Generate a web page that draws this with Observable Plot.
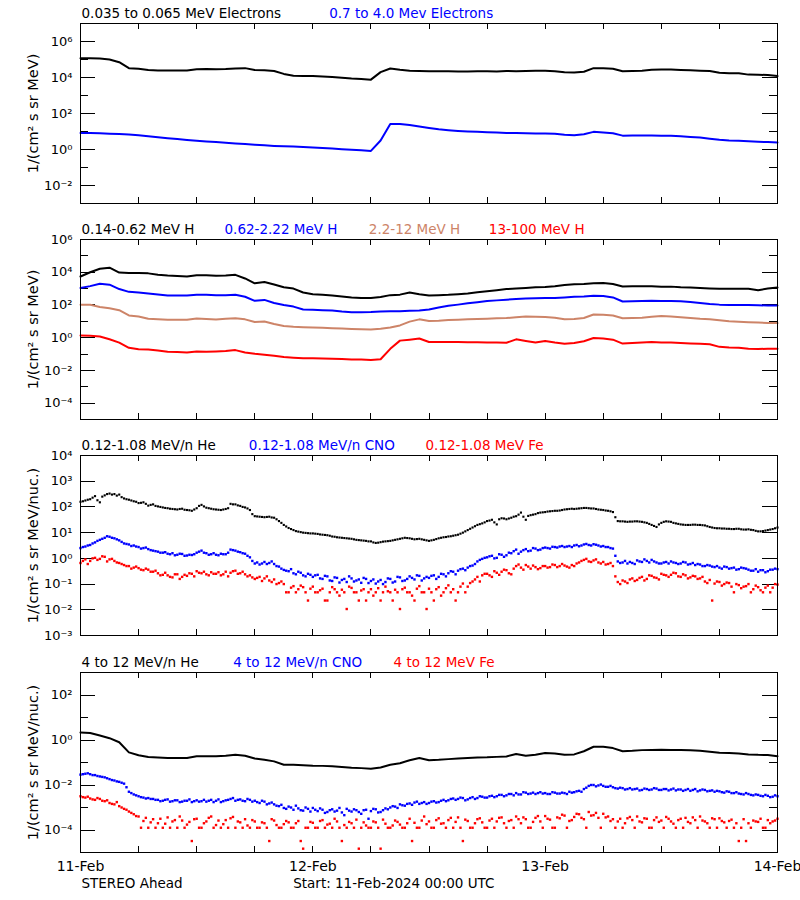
<!DOCTYPE html>
<html><head><meta charset="utf-8">
<script src="https://cdn.jsdelivr.net/npm/d3@7"></script>
<script src="https://cdn.jsdelivr.net/npm/@observablehq/plot@0.6"></script>
<style>
html,body{margin:0;padding:0;background:#fff;}
#root{position:relative;width:800px;height:900px;overflow:hidden;background:#fff;}
</style></head>
<body><div id="root"></div>
<script>
// Sample times: hours since 11-Feb-2024 00:00 UTC
const hours = d3.range(0, 73);
const halfHours = d3.range(0, 145).map(i => i / 2);
const halfHoursB = d3.range(0, 144).map(i => i / 2 + 0.25);

// ---- Panel 1: electrons, log10 flux 1/(cm2 s sr MeV), hourly
const eLowLog = [5.07,5.07,5.06,5.00,4.85,4.52,4.48,4.42,4.39,4.39,4.39,4.39,
 4.46,4.47,4.46,4.47,4.50,4.52,4.42,4.40,4.36,4.20,4.10,4.09,
 4.08,4.05,4.03,3.98,3.94,3.92,3.88,4.30,4.50,4.43,4.38,4.36,
 4.35,4.35,4.35,4.34,4.34,4.35,4.35,4.34,4.36,4.35,4.36,4.37,
 4.37,4.35,4.29,4.28,4.32,4.52,4.51,4.49,4.35,4.36,4.38,4.43,
 4.44,4.44,4.42,4.40,4.38,4.36,4.26,4.24,4.24,4.16,4.15,4.14,
 4.08];
const eHighLog = [0.91,0.91,0.90,0.88,0.86,0.83,0.79,0.74,0.68,0.63,0.58,0.53,
 0.48,0.44,0.41,0.37,0.34,0.30,0.26,0.23,0.20,0.18,0.16,0.14,
 0.11,0.08,0.05,0.02,-0.01,-0.04,-0.08,0.50,1.42,1.42,1.36,1.28,
 1.20,1.12,1.07,1.03,1.00,0.98,0.96,0.94,0.92,0.91,0.90,0.89,
 0.89,0.87,0.82,0.79,0.85,0.98,0.95,0.90,0.77,0.78,0.78,0.78,
 0.77,0.76,0.73,0.70,0.67,0.60,0.54,0.50,0.48,0.46,0.43,0.41,
 0.39];

// ---- Panel 2: protons, log10 flux, hourly
const h1Log = [3.74,4.00,4.21,4.28,3.98,3.96,3.96,3.93,3.85,3.80,3.77,3.74,
 3.82,3.82,3.78,3.80,3.84,3.62,3.32,3.40,3.25,3.08,3.00,2.76,
 2.66,2.62,2.58,2.52,2.46,2.43,2.42,2.48,2.60,2.63,2.76,2.66,
 2.58,2.60,2.62,2.66,2.70,2.78,2.84,2.90,2.97,3.00,3.04,3.08,
 3.10,3.14,3.22,3.26,3.28,3.32,3.34,3.28,3.13,3.14,3.15,3.15,
 3.12,3.12,3.08,3.06,3.04,3.01,2.99,2.99,2.99,2.99,2.90,3.00,
 3.07];
const h2Log = [3.03,3.15,3.30,3.24,2.97,2.80,2.76,2.70,2.64,2.58,2.58,2.58,
 2.63,2.62,2.60,2.60,2.62,2.50,2.25,2.31,2.12,2.00,1.90,1.72,
 1.70,1.68,1.66,1.60,1.56,1.56,1.57,1.60,1.62,1.62,1.64,1.66,
 1.72,1.85,1.95,2.02,2.10,2.17,2.24,2.28,2.32,2.36,2.39,2.41,
 2.42,2.43,2.46,2.50,2.52,2.56,2.55,2.46,2.21,2.22,2.24,2.25,
 2.24,2.24,2.22,2.18,2.12,2.06,2.02,2.00,2.00,1.99,1.98,1.97,
 1.97];
const h3Log = [2.01,2.01,1.88,1.80,1.68,1.36,1.30,1.16,1.12,1.09,1.09,1.09,
 1.17,1.14,1.11,1.15,1.19,1.12,0.96,0.99,0.84,0.72,0.67,0.64,
 0.62,0.60,0.58,0.56,0.53,0.51,0.50,0.54,0.62,0.75,0.98,1.12,
 1.02,1.04,1.08,1.10,1.12,1.14,1.16,1.18,1.20,1.25,1.30,1.28,
 1.27,1.22,1.12,1.14,1.20,1.42,1.40,1.36,1.19,1.20,1.22,1.28,
 1.32,1.30,1.25,1.20,1.15,1.12,1.06,1.00,0.98,0.95,0.93,0.90,
 0.89];
const h4Log = [0.13,0.12,0.07,-0.10,-0.30,-0.62,-0.70,-0.72,-0.78,-0.86,-0.88,-0.90,
 -0.84,-0.86,-0.84,-0.82,-0.76,-0.90,-0.98,-1.04,-1.10,-1.18,-1.22,-1.25,
 -1.26,-1.27,-1.29,-1.31,-1.33,-1.34,-1.36,-1.32,-0.68,-0.18,-0.12,-0.05,
 -0.26,-0.27,-0.27,-0.27,-0.28,-0.28,-0.29,-0.30,-0.31,-0.10,-0.20,-0.30,
 -0.20,-0.30,-0.37,-0.33,-0.22,-0.02,-0.05,-0.12,-0.36,-0.33,-0.30,-0.27,
 -0.29,-0.30,-0.33,-0.35,-0.37,-0.40,-0.56,-0.60,-0.62,-0.68,-0.69,-0.68,
 -0.68];

// ---- Panel 3: 0.12-1.08 MeV/n ions, log10 flux, two interleaved half-hourly sample sets
const he3Log = [2.20,2.25,2.30,2.42,2.18,2.45,2.52,2.50,2.48,2.33,2.28,2.22,
 2.15,2.18,2.05,2.10,2.02,1.98,1.95,1.92,1.90,1.93,1.88,1.85,
 1.95,2.08,1.97,1.93,1.90,1.88,1.92,2.12,2.10,2.04,1.98,1.88,
 1.64,1.62,1.60,1.62,1.58,1.45,1.30,1.18,1.10,1.04,1.00,0.98,
 0.97,0.95,0.92,0.90,0.85,0.82,0.80,0.78,0.76,0.72,0.70,0.68,
 0.66,0.60,0.63,0.66,0.68,0.72,0.76,0.80,0.78,0.74,0.76,0.72,
 0.68,0.72,0.78,0.82,0.85,0.88,0.92,1.00,1.10,1.20,1.30,1.36,
 1.45,1.50,1.32,1.56,1.52,1.58,1.64,1.78,1.50,1.68,1.72,1.78,
 1.80,1.83,1.85,1.86,1.90,1.92,1.92,1.94,1.96,1.95,1.94,1.90,
 1.88,1.85,1.80,1.45,1.44,1.42,1.43,1.44,1.42,1.38,1.30,1.22,
 1.38,1.44,1.42,1.36,1.32,1.30,1.30,1.31,1.30,1.28,1.22,1.18,
 1.17,1.16,1.15,1.14,1.15,1.12,1.13,1.10,1.05,1.06,1.10,1.14,
 1.20];
const he3LogB = [2.22,2.28,2.36,2.26,2.40,2.50,2.48,2.44,2.38,2.30,2.25,2.20,
 2.16,2.12,2.08,2.04,2.00,1.96,1.93,1.91,1.92,1.89,1.87,1.90,
 2.04,2.02,1.95,1.91,1.89,1.90,1.95,2.10,2.06,2.00,1.94,1.72,
 1.63,1.61,1.61,1.59,1.52,1.38,1.24,1.14,1.06,1.02,0.99,0.97,
 0.96,0.93,0.91,0.88,0.84,0.81,0.79,0.77,0.74,0.71,0.69,0.66,
 0.62,0.61,0.65,0.67,0.70,0.74,0.78,0.79,0.76,0.75,0.74,0.70,
 0.70,0.75,0.80,0.83,0.86,0.90,0.96,1.05,1.15,1.25,1.33,1.40,
 1.47,1.40,1.52,1.55,1.55,1.62,1.70,1.62,1.65,1.70,1.76,1.79,
 1.82,1.84,1.85,1.88,1.91,1.93,1.93,1.95,1.96,1.94,1.92,1.89,
 1.86,1.83,1.60,1.44,1.43,1.43,1.44,1.43,1.40,1.34,1.26,1.32,
 1.42,1.43,1.38,1.34,1.31,1.30,1.31,1.30,1.29,1.25,1.20,1.17,
 1.16,1.15,1.14,1.15,1.13,1.12,1.11,1.07,1.05,1.08,1.12,1.17];
const cno3Log = [0.40,0.46,0.52,0.62,0.72,0.80,0.84,0.78,0.70,0.58,0.54,0.50,
 0.44,0.40,0.36,0.30,0.26,0.22,0.18,0.20,0.14,0.17,0.11,0.13,
 0.22,0.30,0.20,0.16,0.14,0.18,0.16,0.34,0.30,0.24,0.18,0.04,
 -0.20,-0.24,-0.14,-0.18,-0.22,-0.32,-0.45,-0.50,-0.58,-0.52,-0.66,-0.60,
 -0.72,-0.64,-0.80,-0.70,-0.88,-0.76,-0.84,-0.92,-0.78,-0.86,-0.95,-0.80,
 -0.88,-0.98,-0.84,-0.92,-0.80,-0.90,-0.74,-0.86,-0.70,-0.82,-0.68,-0.78,
 -0.76,-0.66,-0.72,-0.62,-0.58,-0.52,-0.48,-0.40,-0.36,-0.28,-0.12,-0.02,
 0.04,0.10,0.02,0.14,0.12,0.20,0.34,0.26,0.36,0.30,0.38,0.34,
 0.42,0.38,0.44,0.46,0.44,0.48,0.50,0.47,0.54,0.52,0.55,0.50,
 0.48,0.44,0.38,-0.12,-0.16,-0.20,-0.18,-0.08,-0.14,-0.10,-0.06,-0.16,
 -0.20,-0.14,-0.12,-0.18,-0.20,-0.16,-0.22,-0.26,-0.24,-0.30,-0.28,-0.34,
 -0.36,-0.32,-0.40,-0.36,-0.42,-0.38,-0.44,-0.48,-0.52,-0.46,-0.50,-0.44,
 -0.42];
const cno3LogB = [0.44,0.50,0.58,0.68,0.76,0.86,0.80,0.74,0.64,0.56,0.48,0.46,
 0.38,0.42,0.32,0.28,0.22,0.24,0.16,0.12,0.18,0.10,0.14,0.16,
 0.26,0.22,0.14,0.20,0.12,0.16,0.22,0.32,0.26,0.20,0.10,-0.10,
 -0.16,-0.20,-0.22,-0.12,-0.30,-0.40,-0.48,-0.42,-0.62,-0.56,-0.70,-0.64,
 -0.66,-0.78,-0.68,-0.86,-0.74,-0.94,-0.80,-0.70,-0.90,-0.82,-0.76,-0.96,
 -0.82,-0.90,-1.00,-0.78,-0.94,-0.72,-0.88,-0.80,-0.76,-0.66,-0.86,-0.72,
 -0.68,-0.80,-0.60,-0.70,-0.50,-0.62,-0.42,-0.46,-0.30,-0.22,-0.06,0.02,
 0.08,0.00,0.16,0.06,0.22,0.28,0.18,0.32,0.28,0.40,0.32,0.40,
 0.40,0.45,0.42,0.48,0.46,0.44,0.52,0.50,0.56,0.50,0.53,0.46,
 0.44,0.40,0.10,-0.18,-0.10,-0.14,-0.22,-0.12,-0.04,-0.16,-0.12,-0.20,
 -0.16,-0.20,-0.16,-0.22,-0.14,-0.24,-0.18,-0.22,-0.30,-0.26,-0.32,-0.30,
 -0.40,-0.34,-0.38,-0.44,-0.36,-0.40,-0.48,-0.42,-0.46,-0.54,-0.44,-0.40];
const fe3Log = [-0.18,-0.04,-0.10,0.02,-0.02,0.06,-0.04,-0.10,-0.18,-0.26,-0.30,-0.36,
 -0.38,-0.46,-0.44,-0.52,-0.58,-0.64,-0.66,-0.74,-0.62,-0.72,-0.68,-0.60,
 -0.50,-0.58,-0.62,-0.54,-0.60,-0.66,-0.52,-0.56,-0.48,-0.58,-0.62,-0.66,
 -0.80,-0.72,-0.78,-0.86,-0.82,-0.96,-1.00,-1.32,-1.08,-1.20,-1.12,-1.64,
 -1.10,-1.32,-1.18,-1.64,-1.12,-1.32,-1.22,-1.97,-1.15,-1.32,-1.25,-1.64,
 -1.20,-1.32,-1.64,-1.10,-1.32,-1.22,-1.97,-1.14,-1.32,-1.64,-1.08,-1.32,
 -1.18,-1.64,-1.12,-1.32,-1.05,-1.20,-1.32,-0.98,-1.10,-0.90,-0.72,-0.66,
 -0.60,-0.72,-0.56,-0.52,-0.46,-0.62,-0.30,-0.36,-0.26,-0.40,-0.34,-0.38,
 -0.30,-0.34,-0.26,-0.30,-0.28,-0.36,-0.30,-0.16,-0.06,-0.12,-0.08,-0.16,
 -0.14,-0.22,-0.30,-0.92,-0.86,-0.96,-0.78,-0.84,-0.72,-0.80,-0.68,-0.76,
 -0.60,-0.66,-0.64,-0.58,-0.72,-0.66,-0.74,-0.70,-0.78,-0.90,-0.84,-0.98,
 -0.92,-1.00,-0.96,-1.32,-1.04,-1.10,-1.00,-1.20,-1.12,-1.32,-1.06,-1.14,
 -1.02];
const fe3LogB = [-0.10,-0.22,0.00,-0.06,0.08,-0.12,-0.02,-0.16,-0.22,-0.30,-0.40,-0.32,
 -0.44,-0.40,-0.52,-0.48,-0.66,-0.56,-0.72,-0.62,-0.80,-0.64,-0.58,-0.70,
 -0.56,-0.52,-0.66,-0.60,-0.54,-0.62,-0.70,-0.50,-0.60,-0.52,-0.70,-0.74,
 -0.76,-0.88,-0.70,-0.92,-1.00,-0.90,-1.32,-1.14,-1.32,-1.06,-1.32,-1.18,
 -1.32,-1.24,-1.64,-1.32,-1.20,-1.45,-1.32,-1.10,-1.32,-1.64,-1.20,-1.32,
 -1.45,-1.16,-1.32,-1.28,-1.64,-1.32,-1.20,-1.32,-1.45,-1.18,-1.32,-1.97,
 -1.32,-1.20,-1.45,-1.16,-1.32,-1.64,-1.10,-1.32,-0.96,-0.82,-0.90,-0.60,
 -0.66,-0.50,-0.64,-0.44,-0.58,-0.40,-0.24,-0.44,-0.32,-0.28,-0.42,-0.30,
 -0.36,-0.24,-0.34,-0.22,-0.32,-0.26,-0.20,-0.10,-0.02,-0.14,-0.04,-0.20,
 -0.24,-0.18,-0.70,-1.00,-0.90,-0.82,-0.88,-0.76,-0.86,-0.66,-0.74,-0.82,
 -0.64,-0.72,-0.56,-0.70,-0.62,-0.78,-0.68,-0.80,-0.72,-0.96,-1.64,-0.90,
 -1.06,-0.94,-1.10,-1.00,-1.16,-1.08,-1.32,-1.06,-1.24,-1.14,-1.32,-1.00];

// ---- Panel 4: 4-12 MeV/n ions, log10 flux
const he4Log = [0.33,0.31,0.20,0.08,-0.10,-0.55,-0.68,-0.76,-0.78,-0.80,-0.80,-0.80,
 -0.72,-0.72,-0.72,-0.70,-0.66,-0.70,-0.82,-0.88,-0.95,-1.10,-1.10,-1.12,
 -1.14,-1.15,-1.17,-1.20,-1.23,-1.25,-1.28,-1.22,-1.10,-1.03,-0.90,-0.80,
 -0.90,-0.88,-0.85,-0.82,-0.80,-0.78,-0.77,-0.75,-0.73,-0.62,-0.70,-0.66,
 -0.58,-0.60,-0.66,-0.64,-0.50,-0.30,-0.30,-0.36,-0.50,-0.48,-0.45,-0.44,
 -0.43,-0.44,-0.44,-0.46,-0.48,-0.52,-0.57,-0.58,-0.60,-0.64,-0.66,-0.67,
 -0.72];
const cno4Log = [-1.54,-1.50,-1.52,-1.56,-1.62,-1.66,-1.74,-1.80,-1.86,-1.94,-2.30,-2.42,
 -2.50,-2.56,-2.58,-2.62,-2.66,-2.70,-2.64,-2.72,-2.68,-2.74,-2.70,-2.76,
 -2.68,-2.72,-2.74,-2.66,-2.70,-2.76,-2.68,-2.62,-2.70,-2.64,-2.72,-2.66,
 -2.70,-2.80,-2.74,-2.82,-2.86,-2.94,-3.02,-2.96,-3.10,-3.04,-3.14,-3.06,
 -3.02,-3.16,-3.10,-3.20,-3.08,-3.14,-3.22,-3.06,-3.18,-3.12,-3.28,-3.10,
 -3.16,-3.08,-3.20,-3.04,-3.00,-2.96,-2.86,-2.92,-2.82,-2.78,-2.84,-2.76,
 -2.80,-2.72,-2.76,-2.66,-2.68,-2.60,-2.62,-2.58,-2.64,-2.54,-2.58,-2.52,
 -2.56,-2.48,-2.50,-2.44,-2.46,-2.40,-2.36,-2.42,-2.34,-2.38,-2.40,-2.32,
 -2.36,-2.40,-2.34,-2.38,-2.36,-2.30,-2.32,-2.26,-2.18,-2.04,-2.00,-2.02,
 -2.04,-2.08,-2.10,-2.16,-2.14,-2.18,-2.20,-2.16,-2.22,-2.18,-2.20,-2.16,
 -2.22,-2.18,-2.20,-2.24,-2.20,-2.22,-2.26,-2.18,-2.24,-2.22,-2.26,-2.30,
 -2.28,-2.34,-2.30,-2.36,-2.38,-2.42,-2.40,-2.46,-2.44,-2.50,-2.48,-2.52,
 -2.50];
const cno4LogB = [-1.52,-1.48,-1.56,-1.60,-1.64,-1.70,-1.78,-1.84,-1.90,-2.10,-2.36,-2.46,
 -2.54,-2.60,-2.62,-2.66,-2.72,-2.66,-2.74,-2.68,-2.76,-2.70,-2.64,-2.72,
 -2.74,-2.66,-2.70,-2.76,-2.64,-2.72,-2.66,-2.58,-2.66,-2.70,-2.62,-2.74,
 -2.76,-2.70,-2.86,-2.78,-2.92,-2.88,-3.06,-3.00,-2.92,-3.12,-3.00,-3.18,
 -3.10,-3.04,-3.24,-3.12,-3.18,-3.02,-3.34,-3.14,-3.08,-3.20,-3.12,-3.50,
 -3.06,-3.22,-3.12,-3.08,-2.94,-3.02,-2.90,-2.84,-2.88,-2.74,-2.80,-2.84,
 -2.74,-2.78,-2.70,-2.72,-2.62,-2.66,-2.56,-2.68,-2.58,-2.62,-2.50,-2.56,
 -2.50,-2.54,-2.44,-2.50,-2.40,-2.46,-2.42,-2.32,-2.40,-2.34,-2.36,-2.38,
 -2.40,-2.32,-2.38,-2.34,-2.40,-2.34,-2.28,-2.30,-2.12,-2.00,-2.06,-1.98,
 -2.08,-2.04,-2.14,-2.12,-2.20,-2.14,-2.18,-2.24,-2.16,-2.22,-2.14,-2.22,
 -2.18,-2.24,-2.16,-2.20,-2.26,-2.18,-2.22,-2.28,-2.20,-2.28,-2.24,-2.26,
 -2.32,-2.28,-2.36,-2.32,-2.40,-2.36,-2.44,-2.42,-2.48,-2.44,-2.54,-2.46];
const fe4Log = [-2.50,-2.56,-2.60,-2.66,-2.62,-2.72,-2.80,-2.86,-2.94,-3.06,-3.18,-3.30,
 -3.40,-3.60,-3.90,-3.52,-3.70,-3.90,-3.44,-3.62,-3.90,-3.58,-3.76,-4.49,
 -3.50,-3.90,-3.62,-3.40,-3.78,-3.90,-3.56,-3.48,-3.90,-3.66,-3.52,-3.90,
 -3.62,-3.90,-3.70,-4.49,-3.58,-3.90,-3.74,-3.66,-3.90,-3.60,-4.83,-3.90,
 -3.68,-3.90,-3.56,-3.76,-3.90,-3.62,-4.49,-3.90,-3.70,-3.54,-3.90,-3.80,
 -3.90,-3.66,-4.83,-3.72,-3.90,-3.58,-3.76,-3.90,-3.50,-3.68,-3.90,-3.40,
 -3.62,-3.90,-3.48,-3.70,-3.56,-3.90,-3.44,-4.49,-3.60,-3.90,-3.52,-3.66,
 -3.90,-3.50,-3.62,-3.44,-3.90,-3.56,-3.40,-3.70,-3.52,-3.90,-3.46,-3.62,
 -3.38,-3.54,-3.90,-3.48,-3.36,-3.60,-3.42,-3.30,-3.52,-3.20,-3.34,-3.46,
 -3.28,-3.40,-3.52,-3.62,-3.90,-3.48,-3.56,-3.40,-3.66,-3.50,-3.90,-3.44,
 -3.58,-3.42,-3.62,-3.90,-3.50,-3.46,-3.70,-3.56,-3.40,-3.62,-3.90,-3.52,
 -3.48,-3.66,-3.60,-3.90,-4.49,-3.52,-3.70,-3.58,-3.64,-3.90,-3.56,-3.62,
 -3.50];
const fe4LogB = [-2.54,-2.52,-2.64,-2.58,-2.70,-2.68,-2.84,-2.76,-3.00,-3.10,-3.24,-3.38,
 -3.90,-3.46,-3.66,-3.90,-3.50,-3.72,-3.90,-3.56,-3.40,-3.90,-3.64,-3.52,
 -3.90,-3.70,-3.46,-3.90,-3.58,-3.74,-3.90,-3.42,-3.62,-3.90,-3.80,-3.56,
 -3.90,-3.66,-3.90,-3.52,-3.78,-3.90,-3.60,-3.90,-3.70,-4.49,-3.90,-3.64,
 -3.90,-3.60,-3.90,-3.72,-3.50,-3.90,-3.78,-3.64,-3.90,-4.83,-3.66,-3.90,
 -3.62,-3.90,-3.54,-3.90,-3.80,-3.64,-3.90,-3.70,-4.49,-3.90,-3.58,-3.74,
 -3.90,-3.56,-3.72,-3.90,-3.46,-3.64,-3.90,-3.54,-3.90,-3.70,-3.48,-3.90,
 -3.58,-3.90,-3.46,-3.70,-3.60,-3.90,-3.52,-3.44,-3.90,-3.64,-3.38,-3.90,
 -3.50,-3.90,-3.44,-3.32,-3.90,-3.56,-3.28,-3.46,-3.90,-3.36,-3.24,-3.90,
 -3.44,-3.60,-3.90,-3.50,-3.70,-3.42,-3.90,-3.62,-3.48,-3.90,-3.56,-3.64,
 -3.90,-3.50,-3.72,-3.56,-3.90,-3.64,-3.44,-3.90,-3.58,-3.70,-3.48,-3.90,
 -3.60,-3.90,-3.54,-3.70,-3.90,-4.49,-3.90,-3.62,-3.50,-3.90,-3.70,-3.58];

// ---- Axis ticks and labels
const sixHourTicks = [0,6,12,18,24,30,36,42,48,54,60,66,72];
const dayTicks = [0,24,48,72];
const dayLabels = ["11-Feb","12-Feb","13-Feb","14-Feb"];
const p1Major = [1e-2,1e0,1e2,1e4,1e6], p1Minor = [1e-1,1e1,1e3,1e5];
const p2Major = [1e-4,1e-2,1e0,1e2,1e4,1e6], p2Minor = [1e-3,1e-1,1e1,1e3,1e5];
const p3Major = [1e-3,1e-2,1e-1,1e0,1e1,1e2,1e3,1e4], p3Minor = [];
const p4Major = [1e-4,1e-2,1e0,1e2], p4Minor = [1e-3,1e-1,1e1];
const yLabelMeV = "1/(cm\u00B2 s sr MeV)";
const yLabelNuc = "1/(cm\u00B2 s sr MeV/nuc.)";
const p1Titles = ["0.035 to 0.065 MeV Electrons","0.7 to 4.0 Mev Electrons"];
const p2Titles = ["0.14-0.62 MeV H","0.62-2.22 MeV H","2.2-12 MeV H","13-100 MeV H"];
const p3Titles = ["0.12-1.08 MeV/n He","0.12-1.08 MeV/n CNO","0.12-1.08 MeV Fe"];
const p4Titles = ["4 to 12 MeV/n He","4 to 12 MeV/n CNO","4 to 12 MeV Fe"];
const footLeft = "STEREO Ahead";
const footStart = "Start: 11-Feb-2024 00:00 UTC";

const BLACK = "#000000", BLUE = "#0000ff", BROWN = "#cd8468", RED = "#ff0000";

const sup = {"-":"\u207B","0":"\u2070","1":"\u00B9","2":"\u00B2","3":"\u00B3","4":"\u2074","5":"\u2075","6":"\u2076","7":"\u2077","8":"\u2078","9":"\u2079"};
const fmtPow = v => "10" + String(Math.round(Math.log10(v))).split("").map(c => sup[c]).join("");

const toRows = (t, logs) => t.map((h, i) => ({h, v: Math.pow(10, logs[i])}));

const panels = [
  {svgTop: 0, mb: 13, domain: [1e-3, 1e7], major: p1Major, minor: p1Minor, ylabel: yLabelMeV,
   titles: p1Titles, titleDx: [1, 248.7], titleColors: [BLACK, BLUE],
   lines: [[hours, eLowLog, BLACK], [hours, eHighLog, BLUE]], dots: []},
  {svgTop: 216, mb: 13, domain: [1e-5, 1e6], major: p2Major, minor: p2Minor, ylabel: yLabelMeV,
   titles: p2Titles, titleDx: [1, 144, 288.3, 408.3], titleColors: [BLACK, BLUE, BROWN, RED],
   lines: [[hours, h1Log, BLACK], [hours, h2Log, BLUE], [hours, h3Log, BROWN], [hours, h4Log, RED]], dots: []},
  {svgTop: 432, mb: 13, domain: [1e-3, 1e4], major: p3Major, minor: p3Minor, ylabel: yLabelNuc,
   titles: p3Titles, titleDx: [1, 168.3, 345], titleColors: [BLACK, BLUE, RED],
   lines: [], dots: [[halfHours, fe3Log, RED, 1.35], [halfHoursB, fe3LogB, RED, 1.35],
                     [halfHours, cno3Log, BLUE, 1.35], [halfHoursB, cno3LogB, BLUE, 1.35],
                     [halfHours, he3Log, BLACK, 1.2], [halfHoursB, he3LogB, BLACK, 1.2]]},
  {svgTop: 649, mb: 48, domain: [1e-5, 1e3], major: p4Major, minor: p4Minor, ylabel: yLabelNuc,
   titles: p4Titles, titleDx: [1, 152.7, 313], titleColors: [BLACK, BLUE, RED],
   lines: [[hours, he4Log, BLACK]],
   dots: [[halfHours, fe4Log, RED, 1.35], [halfHoursB, fe4LogB, RED, 1.35],
          [halfHours, cno4Log, BLUE, 1.35], [halfHoursB, cno4LogB, BLUE, 1.35]], footer: true}
];

const root = document.getElementById("root");
const MT = 23;

panels.forEach(p => {
  const marks = [];
  marks.push(Plot.tickY(p.major, {y: d => d, insetRight: 682, stroke: BLACK, shapeRendering: "crispEdges"}));
  marks.push(Plot.tickY(p.major, {y: d => d, insetLeft: 682, stroke: BLACK, shapeRendering: "crispEdges"}));
  if (p.minor.length) {
    marks.push(Plot.tickY(p.minor, {y: d => d, insetRight: 689, stroke: BLACK, shapeRendering: "crispEdges"}));
    marks.push(Plot.tickY(p.minor, {y: d => d, insetLeft: 689, stroke: BLACK, shapeRendering: "crispEdges"}));
  }
  marks.push(Plot.tickX(sixHourTicks, {x: d => d, insetTop: 174, stroke: BLACK, shapeRendering: "crispEdges"}));
  marks.push(Plot.tickX(sixHourTicks, {x: d => d, insetBottom: 174, stroke: BLACK, shapeRendering: "crispEdges"}));
  p.dots.forEach(([t, logs, color, r]) => {
    marks.push(Plot.dot(toRows(t, logs), {x: "h", y: "v", symbol: "square", r, fill: color}));
  });
  p.lines.forEach(([t, logs, color]) => {
    marks.push(Plot.line(toRows(t, logs), {x: "h", y: "v", stroke: color, strokeWidth: 2, curve: "linear"}));
  });
  marks.push(Plot.frame({stroke: BLACK, strokeWidth: 1, shapeRendering: "crispEdges"}));
  marks.push(Plot.text(p.major, {y: d => d, text: fmtPow, frameAnchor: "left", textAnchor: "end", dx: -8, fontSize: 13, fill: BLACK}));
  marks.push(Plot.text([p.ylabel], {text: d => d, frameAnchor: "left", rotate: -90, dx: -47, textAnchor: "middle", lineAnchor: "middle", fontSize: 14.5, fill: BLACK}));
  p.titles.forEach((tt, i) => {
    marks.push(Plot.text([tt], {text: d => d, frameAnchor: "top-left", dx: p.titleDx[i], dy: -5.5, lineAnchor: "bottom", textAnchor: "start", fontSize: 13.5, fill: p.titleColors[i]}));
  });
  if (p.footer) {
    marks.push(Plot.text(dayTicks, {x: d => d, text: (d, i) => dayLabels[i], frameAnchor: "bottom", dy: 18, lineAnchor: "bottom", textAnchor: "middle", fontSize: 14, fill: BLACK}));
    marks.push(Plot.text([footLeft], {text: d => d, frameAnchor: "bottom-left", dx: 1, dy: 35, lineAnchor: "bottom", textAnchor: "start", fontSize: 13.5, fill: BLACK}));
    marks.push(Plot.text([footStart], {text: d => d, frameAnchor: "bottom-left", dx: 212.7, dy: 35, lineAnchor: "bottom", textAnchor: "start", fontSize: 13.5, fill: BLACK}));
  }
  const svg = Plot.plot({
    width: 800,
    height: 180 + MT + p.mb,
    marginLeft: 80, marginRight: 23, marginTop: MT, marginBottom: p.mb,
    x: {domain: [0, 72], axis: null},
    y: {type: "log", domain: p.domain, axis: null},
    style: {fontFamily: "DejaVu Sans, sans-serif", fontSize: "13px", background: "white", color: "black", overflow: "visible"},
    marks
  });
  const wrap = document.createElement("div");
  wrap.style.cssText = `position:absolute;left:0;top:${p.svgTop}px;width:800px;`;
  wrap.appendChild(svg);
  root.appendChild(wrap);
});
</script>
</body></html>
